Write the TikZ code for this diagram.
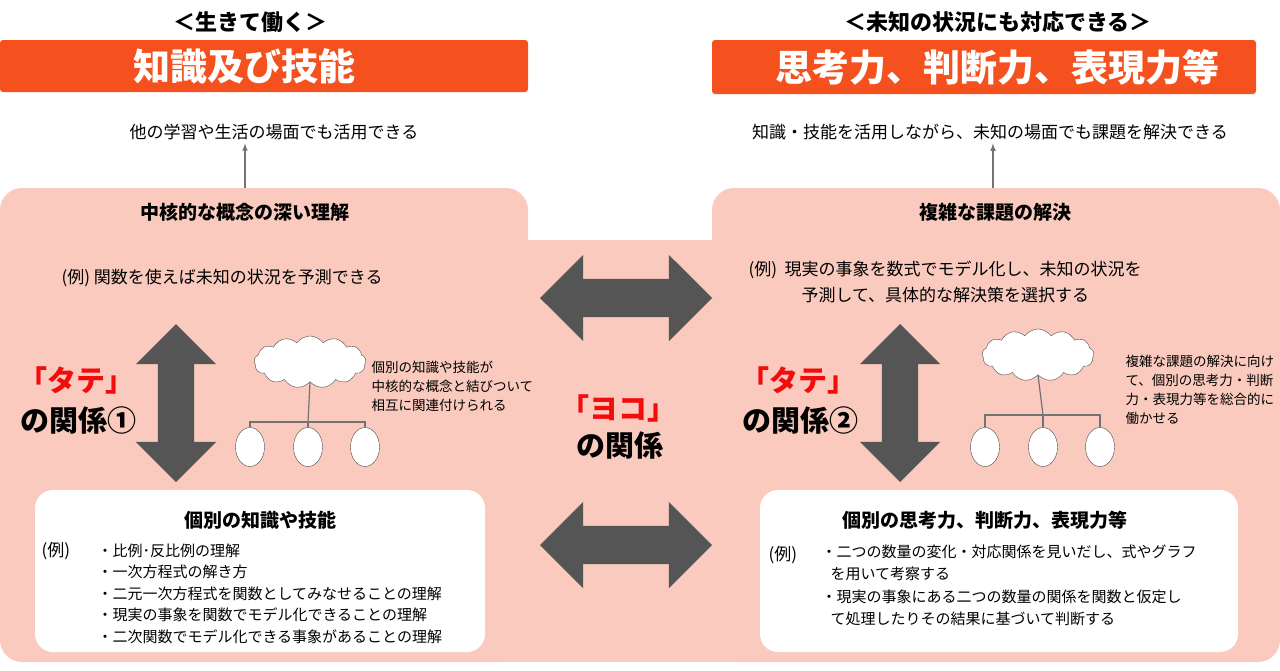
\documentclass[tikz,border=0pt]{standalone}
\usepackage{fontspec}
\setmainfont{Noto Sans CJK JP}
\usetikzlibrary{shapes.symbols,shapes.arrows}
\definecolor{pinkbg}{HTML}{F9CABD}
\definecolor{orangebar}{HTML}{F4511E}
\definecolor{arrowgray}{HTML}{555555}
\definecolor{tred}{HTML}{F20C0C}
\tikzset{
  fs/.style={font=\fontsize{#1}{#1}\selectfont},
  head/.style={font=\fontsize{22}{22}\selectfont\bfseries},
  sub/.style={font=\fontsize{19}{19}\selectfont\bfseries},
  bartext/.style={text=white, font=\fontsize{37}{37}\selectfont\bfseries},
  big/.style={font=\fontsize{29}{30}\selectfont\bfseries, align=center},
  body/.style={fs=17, anchor=west},
  note/.style={font=\fontsize{13.5}{19}\selectfont, align=left, anchor=north west},
  bigarrow/.style={double arrow, fill=arrowgray, double arrow head extend=22pt,
    text height=0pt, text depth=0pt, inner ysep=18pt, inner xsep=0pt},
  puff/.style={cloud, cloud puffs=13, cloud puff arc=110, aspect=2, draw=black!70, fill=white,
    minimum width=112pt, minimum height=52pt},
  leaf/.style={ellipse, draw=black!70, fill=white, minimum width=29pt, minimum height=39pt},
  tree/.style={draw=black!55, line width=1.2pt}
}
\usetikzlibrary{shapes.geometric}
\begin{document}
\begin{tikzpicture}[x=1pt, y=-1pt]
\useasboundingbox (0,0) rectangle (1280,670);
% Headers
\node[head] (lhead) at (250,22) {＜生きて働く＞};
\fill[orangebar, rounded corners=3pt] (0,40) rectangle (528,92);
\node[bartext] (lbar) at (244,66) {知識及び技能};
\node[head] (rhead) at (998,22) {＜未知の状況にも対応できる＞};
\fill[orangebar, rounded corners=3pt] (712,40) rectangle (1256,94);
\node[bartext] (rbar) at (997,67) {思考力、判断力、表現力等};
\node[fs=17] (lgoal) at (274,132) {他の学習や生活の場面でも活用できる};
\node[fs=17] (rgoal) at (990,132) {知識・技能を活用しながら、未知の場面でも課題を解決できる};
% Background
\fill[pinkbg, rounded corners=22pt] (0,188) rectangle (528,662);
\fill[pinkbg, rounded corners=22pt] (712,188) rectangle (1280,662);
\fill[pinkbg] (500,240) rectangle (740,662);
\coordinate (ltop) at (245,188);
\coordinate (rtop) at (993,188);
\draw[black!55, line width=1.5pt, -latex] (ltop) -- (lgoal.south -| ltop);
\draw[black!55, line width=1.5pt, -latex] (rtop) -- (rgoal.south -| rtop);
% Left panel
\node[sub] (lcore) at (245,212) {中核的な概念の深い理解};
\node[body] (lex) at (58,278) {(例) 関数を使えば未知の状況を予測できる};
\node[bigarrow, rotate=90, minimum height=158pt] (lv) at (176,403) {};
\node[big, text=tred] (ltate) at (76,380) {「タテ」};
\node[big] (lrel) at (78,420) {の関係①};
\node[puff] (lcloud) at (310,362) {};
\node[leaf] (l1) at (250,447) {};
\node[leaf] (l2) at (308,447) {};
\node[leaf] (l3) at (365,447) {};
\draw[tree] (lcloud.south) -- (308,422);
\draw[tree] (l1.north) |- (l3.north |- 0,422) -- (l3.north);
\draw[tree] (308,422) -- (l2.north);
\node[note] (lnote) at (368,358) {個別の知識や技能が\\中核的な概念と結びついて\\相互に関連付けられる};
\node[fill=white, rounded corners=18pt, minimum width=450pt, minimum height=162pt] (lbox) at (260,571) {};
\node[sub] (lind) at (260,520) {個別の知識や技能};
\node[body] (lrei) at (38,551) {(例)};
\node[font=\fontsize{15}{21.5}\selectfont, align=left, anchor=north west] (llist) at (94,540)
  {・比例･反比例の理解\\・一次方程式の解き方\\・二元一次方程式を関数としてみなせることの理解\\・現実の事象を関数でモデル化できることの理解\\・二次関数でモデル化できる事象があることの理解};
% Middle
\node[bigarrow, minimum height=172pt, inner ysep=19pt, double arrow head extend=24pt] (hup) at (626,298) {};
\node[bigarrow, minimum height=172pt, inner ysep=19pt, double arrow head extend=24pt] (hdn) at (626,545) {};
\node[big, text=tred] (yoko) at (618,408) {「ヨコ」};
\node[big] (yrel) at (620,446) {の関係};
% Right panel
\node[sub] (rcore) at (995,212) {複雑な課題の解決};
\node[body] (rex1) at (745,270) {(例)\ \ 現実の事象を数式でモデル化し、未知の状況を};
\node[body] (rex2) at (798,295) {予測して、具体的な解決策を選択する};
\node[bigarrow, rotate=90, minimum height=158pt] (rv) at (900,403) {};
\node[big, text=tred] (rtate) at (798,380) {「タテ」};
\node[big] (rrel) at (800,420) {の関係②};
\node[puff] (rcloud) at (1038,355) {};
\node[leaf] (r1) at (985,447) {};
\node[leaf] (r2) at (1043,447) {};
\node[leaf] (r3) at (1100,447) {};
\draw[tree] (rcloud.south) -- (1043,415);
\draw[tree] (r1.north) |- (r3.north |- 0,415) -- (r3.north);
\draw[tree] (1043,415) -- (r2.north);
\node[note] (rnote) at (1122,352) {複雑な課題の解決に向け\\て、個別の思考力・判断\\力・表現力等を総合的に\\働かせる};
\node[fill=white, rounded corners=18pt, minimum width=478pt, minimum height=162pt] (rbox) at (999,571) {};
\node[sub] (rind) at (985,520) {個別の思考力、判断力、表現力等};
\node[body] (rrei) at (765,555) {(例)};
\node[font=\fontsize{15}{22.5}\selectfont, align=left, anchor=north west] (rlist) at (818,541)
  {・二つの数量の変化・対応関係を見いだし、式やグラフ\\\hspace*{0.6em}を用いて考察する\\・現実の事象にある二つの数量の関係を関数と仮定し\\\hspace*{0.6em}て処理したりその結果に基づいて判断する};
\end{tikzpicture}
\end{document}
